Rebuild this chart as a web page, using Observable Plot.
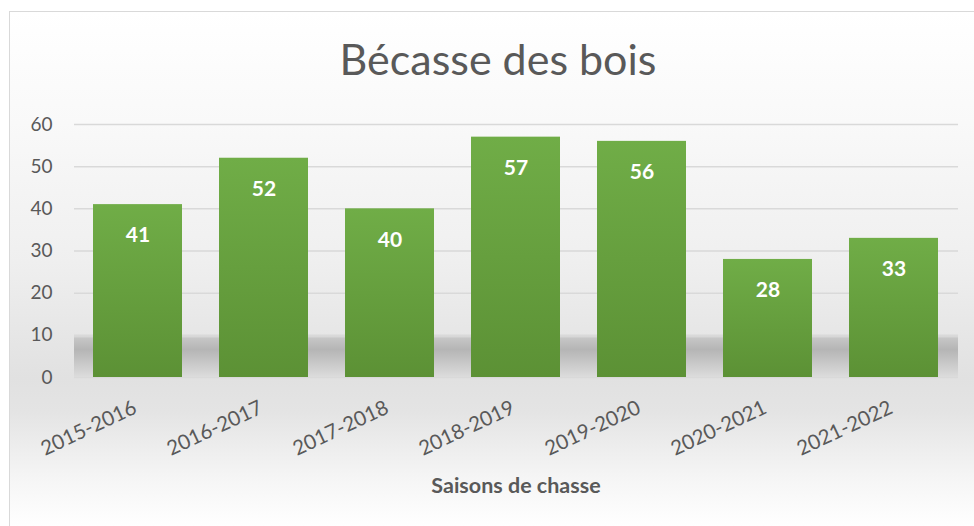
<!DOCTYPE html>
<html>
<head>
<meta charset="utf-8">
<script src="https://cdn.jsdelivr.net/npm/d3@7"></script>
<script src="https://cdn.jsdelivr.net/npm/@observablehq/plot@0.6"></script>
<style>
  html, body { margin: 0; padding: 0; width: 974px; height: 526px; overflow: hidden; background: #fff; }
  #frame {
    position: absolute; left: 9px; top: 11px; width: 990px; height: 540px;
    border: 1.5px solid #d9d9d9; box-sizing: border-box;
    background: linear-gradient(to bottom, #ffffff 0px, #f9f9f9 110px, #efefef 250px, #e1e1e1 366px, #e4e4e4 400px, #f6f6f6 470px, #ffffff 515px);
  }
  #chart { position: absolute; left: 0; top: 0; }
  .title { position: absolute; left: 0; width: 996px; top: 33px; text-align: center;
    font-family: Lato, "Open Sans", sans-serif; font-size: 43px; color: #595959; }
  .xtitle { position: absolute; left: 74px; width: 884px; top: 472px; text-align: center;
    font-family: Lato, "Open Sans", sans-serif; font-size: 21.5px; font-weight: bold; color: #595959; }
</style>
</head>
<body>
<div id="frame"></div>
<div id="chart"></div>
<div class="title">Bécasse des bois</div>
<div class="xtitle">Saisons de chasse</div>
<script>
const seasons = ["2015-2016", "2016-2017", "2017-2018", "2018-2019", "2019-2020", "2020-2021", "2021-2022"];
const values = [41, 52, 40, 57, 56, 28, 33];
const yTicks = [0, 10, 20, 30, 40, 50, 60];

const data = seasons.map((s, i) => ({season: s, value: values[i]}));

const defs = () => {
  const d = d3.create("svg:defs");
  const g = d.append("linearGradient").attr("id", "barGrad").attr("x1", 0).attr("y1", 0).attr("x2", 0).attr("y2", 1);
  g.append("stop").attr("offset", "0%").attr("stop-color", "#70ad47");
  g.append("stop").attr("offset", "100%").attr("stop-color", "#5c9135");
  const s = d.append("linearGradient").attr("id", "shadowGrad").attr("x1", 0).attr("y1", 0).attr("x2", 0).attr("y2", 1);
  s.append("stop").attr("offset", "0%").attr("stop-color", "#d8d8d8").attr("stop-opacity", 0.3);
  s.append("stop").attr("offset", "8%").attr("stop-color", "#c6c6c6");
  s.append("stop").attr("offset", "35%").attr("stop-color", "#b5b5b5");
  s.append("stop").attr("offset", "100%").attr("stop-color", "#dcdcdc");
  return d.node();
};

const chart = Plot.plot({
  width: 974,
  height: 526,
  marginLeft: 74,
  marginRight: 16,
  marginTop: 124,
  marginBottom: 149,
  style: {background: "transparent", fontFamily: "Lato, 'Open Sans', sans-serif"},
  x: {domain: seasons, paddingInner: 0.29, paddingOuter: 0.145, axis: null},
  y: {domain: [0, 60], ticks: yTicks},
  marks: [
    defs,
    Plot.rect([{}], {y1: 0, y2: 10, fill: "url(#shadowGrad)"}),
    Plot.ruleY(yTicks, {stroke: "#d9d9d9", strokeWidth: 1.5}),
    Plot.axisY(yTicks, {tickSize: 0, tickPadding: 22, fontSize: 19, color: "#595959", label: null}),
    Plot.barY(data, {x: "season", y: "value", fill: "url(#barGrad)"}),
    Plot.text(data, {x: "season", y: "value", text: d => String(d.value), dy: 31, fill: "white", fontWeight: "bold", fontSize: 21}),
    Plot.text(seasons, {x: d => d, frameAnchor: "bottom", rotate: -25, textAnchor: "end", dx: 0, dy: 35, fontSize: 20.5, fill: "#595959"})
  ]
});
document.getElementById("chart").appendChild(chart);
</script>
</body>
</html>
